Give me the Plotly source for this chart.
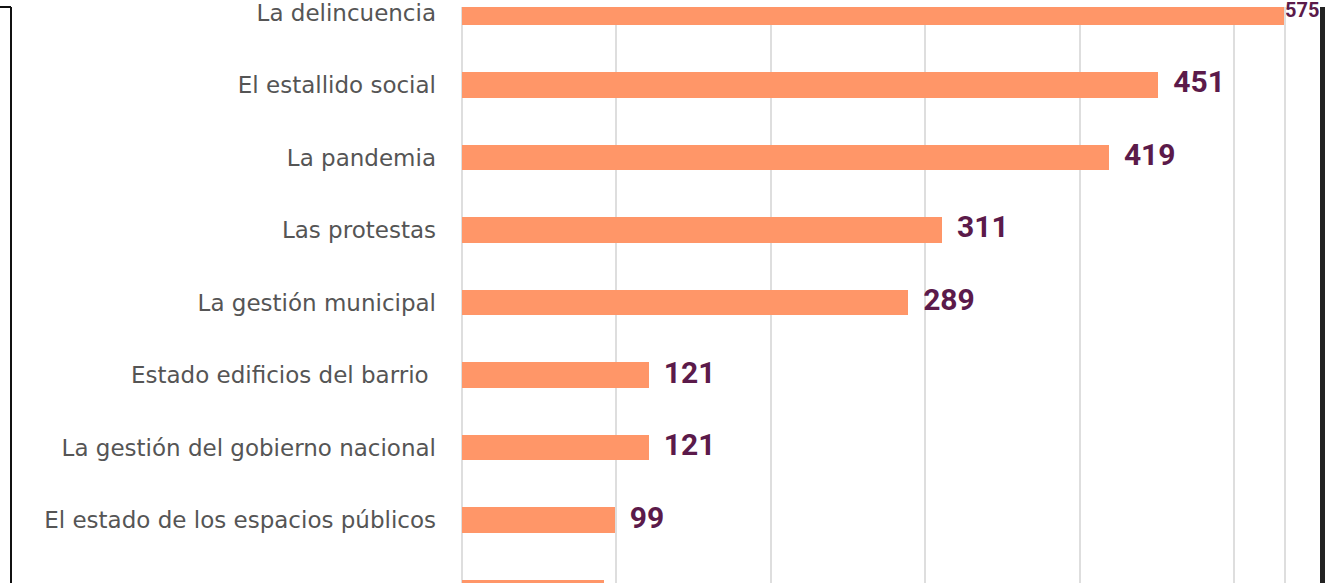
import plotly.graph_objects as go

categories = [
    "La delincuencia",
    "El estallido social",
    "La pandemia",
    "Las protestas",
    "La gestión municipal",
    "Estado edificios del barrio ",
    "La gestión del gobierno nacional",
    "El estado de los espacios públicos",
    "El transporte público",
]
values = [575, 451, 419, 311, 289, 121, 121, 99, 92]
value_labels = ["575", "451", "419", "311", "289", "121", "121", "99", "92"]

W, H = 1325, 583
L, R = 462, 40
XMAX = 533
ORANGE = "#ff9668"
PURPLE = "#5b1a4a"
GRID = "#dedede"
PW = W - L - R

fig = go.Figure()
fig.add_trace(go.Bar(
    y=categories, x=values, orientation="h",
    marker=dict(color=ORANGE, line=dict(width=0)),
    width=0.355, hoverinfo="skip",
))
fig.add_trace(go.Scatter(
    y=categories, x=[min(v, XMAX) for v in values],
    mode="text",
    text=[("" if v > XMAX else "  ") + t for v, t in zip(values, value_labels)],
    textposition="middle right",
    textfont=dict(family="Roboto", color=PURPLE, weight="bold",
                  size=[20 if v > XMAX else 30 for v in values]),
    cliponaxis=False, hoverinfo="skip",
))

fig.update_layout(
    width=W, height=H,
    margin=dict(l=L, r=R, t=0, b=0, pad=0),
    paper_bgcolor="white", plot_bgcolor="white",
    showlegend=False, bargap=0,
    xaxis=dict(range=[0, XMAX], dtick=100, showticklabels=False,
               showgrid=True, gridcolor=GRID, gridwidth=2,
               zeroline=True, zerolinecolor=GRID, zerolinewidth=2,
               showline=False, fixedrange=True),
    yaxis=dict(categoryorder="array", categoryarray=categories,
               range=[7.868, -0.075], showgrid=False, zeroline=False,
               ticks="", ticklabelstandoff=25,
               tickfont=dict(family="DejaVu Sans", size=23, color="#555555")),
    shapes=[
        dict(type="line", xref="paper", yref="paper", x0=1, x1=1, y0=0, y1=1,
             line=dict(color=GRID, width=2)),
        dict(type="line", xref="paper", yref="paper",
             x0=(11 - L) / PW, x1=(11 - L) / PW, y0=0, y1=1,
             line=dict(color="#111111", width=2)),
        dict(type="line", xref="paper", yref="paper",
             x0=-L / PW, x1=(11 - L) / PW, y0=1, y1=1,
             line=dict(color="#111111", width=2)),
        dict(type="rect", xref="paper", yref="paper",
             x0=(1320 - L) / PW, x1=(1326 - L) / PW, y0=0, y1=1,
             fillcolor="#222222", line=dict(width=0)),
    ],
)
fig.write_html(
    "out.html",
    config={"displayModeBar": False},
    post_script="document.body.style.margin='0';document.body.style.overflow='hidden';",
)
